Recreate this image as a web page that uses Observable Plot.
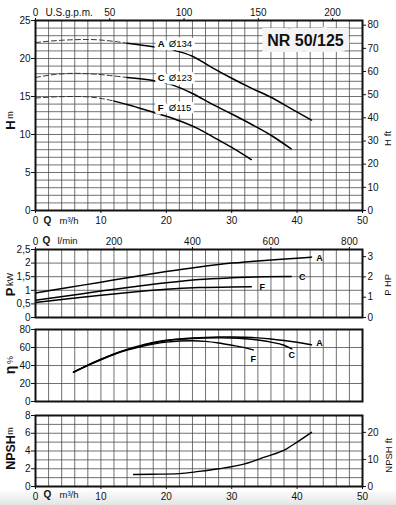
<!DOCTYPE html>
<html><head><meta charset="utf-8">
<script src="https://cdn.jsdelivr.net/npm/d3@7"></script>
<script src="https://cdn.jsdelivr.net/npm/@observablehq/plot@0.6"></script>
<style>
html,body{margin:0;padding:0;background:#fff;}
#wrap{position:relative;width:396px;height:505px;overflow:hidden;}
#wrap svg{position:absolute;left:0;overflow:visible;}
#shade{position:absolute;left:0;top:489px;width:396px;height:16px;background:linear-gradient(#fff,#e4e4e4);}
</style></head><body><div id="wrap"><div id="shade"></div></div>
<script>
// ---------- data ----------
const series = ["A", "C", "F"];
const impeller = ["Ø134", "Ø123", "Ø115"];
const modelName = "NR 50/125";

// Head H (m) vs Q (m3/h)
const headQ_A = [0, 4, 8, 12, 14, 18, 21, 24, 27, 30, 33, 36, 39, 42.2];
const headH_A = [22.1, 22.4, 22.5, 22.25, 22.0, 21.55, 21.1, 20.3, 18.8, 17.4, 16.1, 14.9, 13.45, 11.9];
const headQ_C = [0, 3, 6, 9, 12, 14, 18, 21, 24, 27, 30, 33, 36, 39.1];
const headH_C = [17.5, 17.9, 18.05, 17.95, 17.7, 17.5, 17.1, 16.5, 15.4, 14.0, 12.7, 11.35, 9.9, 8.1];
const headQ_F = [0, 3, 6, 8, 10, 12, 14, 17, 20, 22, 25, 27, 30, 33];
const headH_F = [14.8, 14.95, 15.0, 14.95, 14.75, 14.4, 13.95, 13.2, 12.4, 11.8, 10.7, 9.75, 8.3, 6.7];
const dashedUntil = [14, 14, 12]; // extrapolated (dashed) part of each head curve
const labelQ = [18.7, 18.7, 18.7];
const labelH = [21.97, 17.43, 13.55];

// Power P (kW)
const powQ_A = [0, 5, 10, 15, 20, 25, 30, 35, 40, 42.2];
const powP_A = [0.9, 1.1, 1.3, 1.5, 1.69, 1.86, 2.0, 2.1, 2.18, 2.22];
const powQ_C = [0, 5, 10, 15, 20, 25, 30, 35, 39.1];
const powP_C = [0.63, 0.8, 0.97, 1.13, 1.28, 1.4, 1.46, 1.495, 1.51];
const powQ_F = [0, 5, 10, 15, 20, 25, 30, 33];
const powP_F = [0.55, 0.69, 0.82, 0.94, 1.04, 1.1, 1.125, 1.13];

// Efficiency (%)
const effQ_A = [5.8, 8, 10, 12, 14, 16, 18, 20, 22, 24, 26, 28, 30, 32, 34, 36, 38, 40, 42.2];
const effE_A = [32.5, 40.5, 47, 53, 58, 62, 65.5, 68, 69.5, 70.5, 71.2, 71.6, 71.7, 71.4, 70.7, 69.5, 67.8, 65.8, 63];
const effQ_C = [5.8, 8, 10, 12, 14, 16, 18, 20, 22, 24, 26, 28, 30, 32, 34, 36, 38, 39.2];
const effE_C = [32.5, 40.3, 46.7, 52.7, 57.6, 61.6, 65, 67.5, 69, 70, 70.5, 70.7, 70.5, 69.8, 68.3, 66, 62.5, 58.5];
const effQ_F = [5.8, 8, 10, 12, 14, 16, 18, 20, 22, 24, 26, 28, 30, 32, 33.3];
const effE_F = [32.5, 40, 46.3, 52.2, 57, 60.8, 63.8, 66, 67.2, 67.5, 66.8, 65, 62.5, 59.8, 57.3];

// NPSH (m)
const npshQ = [15, 18, 22, 25, 28, 32, 35, 38.4, 40, 42.2];
const npshM = [1.35, 1.38, 1.45, 1.7, 2.0, 2.55, 3.3, 4.25, 5.0, 6.1];

// Tick labels
const qTicks = [0, 10, 20, 30, 40, 50];
const gpmTicks = [0, 50, 100, 150, 200];
const lpmTicks = [0, 200, 400, 600, 800];
const hTicks = [0, 5, 10, 15, 20, 25];
const hFtTicks = [0, 10, 20, 30, 40, 50, 60, 70, 80];
const pTicks = [0, 0.5, 1, 1.5, 2, 2.5];
const hpTicks = [0, 1, 2, 3];
const effTicks = [0, 20, 40, 60, 80];
const npshTicks = [0, 2, 4, 6, 8];
const npshFtTicks = [0, 10, 20];

// unit conversions
const FT = 0.3048, GPM = 0.2271247, LPM = 0.06, HP = 0.7457;

// ---------- helpers ----------
const FONT = '"Liberation Sans", Arial, Helvetica, sans-serif';
const rows = (qs, vs, s) => qs.map((q, i) => ({series: s, q, v: vs[i]}));
const qGrid = d3.range(0, 51, 2);
const gridStyle = {stroke: "#4d4d4d", strokeOpacity: 1, strokeWidth: 0.8};
const curve = "monotone-x";

function panel(top, height, mt, mb, ydomain, marks, xOpts = {}) {
  const svg = Plot.plot({
    width: 396, height, marginTop: mt, marginBottom: mb, marginLeft: 35, marginRight: 34,
    x: {domain: [0, 50], ...xOpts}, y: {domain: ydomain},
    style: {background: "transparent", fontFamily: FONT, fontSize: "10px", color: "#111", overflow: "visible"},
    marks
  });
  svg.style.top = top + "px";
  document.getElementById("wrap").appendChild(svg);
}

function sideText(txt, side, dx, dy, size, weight) {
  return Plot.text([txt], {text: d => d, frameAnchor: side, rotate: -90, dx, dy,
    fontSize: size, fontWeight: weight, textAnchor: "middle", lineAnchor: "middle", fill: "#111"});
}
function frameText(txt, anchor, dx, dy, size, weight, textAnchor = "start") {
  return Plot.text([txt], {text: d => d, frameAnchor: anchor, dx, dy,
    fontSize: size, fontWeight: weight, textAnchor, lineAnchor: "middle", fill: "#111"});
}

// ---------- Panel 1: head ----------
const headData = [
  rows(headQ_A, headH_A, "A"), rows(headQ_C, headH_C, "C"), rows(headQ_F, headH_F, "F")
];
const headDashed = headData.flatMap((r, i) => r.filter(d => d.q <= dashedUntil[i]));
const headSolid = headData.flatMap((r, i) => r.filter(d => d.q >= dashedUntil[i]));
const headLabels = series.map((s, i) => ({s, d: impeller[i], q: labelQ[i], h: labelH[i]}));

panel(0, 228, 20, 18, [0, 25], [
  Plot.gridX({ticks: qGrid, ...gridStyle}),
  Plot.gridY({ticks: d3.range(0, 26, 1), ...gridStyle}),
  Plot.line(headDashed, {x: "q", y: "v", z: "series", stroke: "#333", strokeWidth: 1, strokeDasharray: "5,3", curve}),
  Plot.line(headSolid, {x: "q", y: "v", z: "series", stroke: "#000", strokeWidth: 1.5, curve}),
  Plot.text(headLabels, {x: "q", y: "h", text: "d", textAnchor: "start", fontSize: 9.5, fill: "#000", dx: 11,
    stroke: "white", strokeWidth: 7}),
  Plot.text(headLabels, {x: "q", y: "h", text: "s", textAnchor: "start", fontSize: 9.5, fontWeight: "bold", fill: "#000",
    stroke: "white", strokeWidth: 7}),
  Plot.text([modelName], {text: d => d, frameAnchor: "top-right", dx: -57, dy: 20, fontSize: 16, fontWeight: "bold",
    textAnchor: "middle", lineAnchor: "middle", fill: "#111", stroke: "#f4f4f4", strokeWidth: 12, strokeLinejoin: "miter"}),
  Plot.frame({stroke: "#111", strokeWidth: 2}),
  Plot.axisY({anchor: "left", ticks: hTicks, tickSize: 4, tickPadding: 1, label: null}),
  Plot.axisY({anchor: "right", ticks: hFtTicks.map(f => f * FT), tickFormat: d => Math.round(d / FT), tickSize: 3, tickPadding: 2, label: null}),
  Plot.axisX({anchor: "top", ticks: gpmTicks.map(g => g * GPM), tickFormat: d => Math.round(d / GPM), tickSize: 3, tickPadding: 2, label: null}),
  Plot.axisX({anchor: "bottom", ticks: qTicks, tickSize: 3, tickPadding: 3, label: null}),
  frameText("U.S.g.p.m.", "top-left", 10, -8, 10, "normal"),
  frameText("Q", "bottom-left", 12, 10, 10, "bold", "middle"),
  frameText("m³/h", "bottom-left", 24, 10, 9.5, "normal"),
  sideText("H", "left", -25, 9.5, 13, "bold"),
  sideText("m", "left", -25, -0.5, 9, "normal"),
  sideText("H", "right", 25, 27, 9.5, "normal"),
  sideText("ft", "right", 25, 18, 9.5, "normal")
]);

// ---------- Panel 2: power ----------
const powData = [
  ...rows(powQ_A, powP_A, "A"), ...rows(powQ_C, powP_C, "C"), ...rows(powQ_F, powP_F, "F")
];
const powEnds = series.map(s => powData.filter(d => d.series === s).at(-1));
const powLabelDx = {A: 8, C: 11, F: 11};

panel(228, 94, 21, 5, [0, 2.5], [
  Plot.gridX({ticks: qGrid, ...gridStyle}),
  Plot.gridY({ticks: d3.range(0, 2.51, 0.5), ...gridStyle}),
  Plot.line(powData, {x: "q", y: "v", z: "series", stroke: "#000", strokeWidth: 1.5, curve}),
  ...series.map(s => Plot.text(powEnds.filter(d => d.series === s), {x: "q", y: "v", text: "series", dx: powLabelDx[s], dy: 0.5,
    fontSize: 9, fontWeight: "bold", fill: "#000"})),
  Plot.frame({stroke: "#111", strokeWidth: 2}),
  Plot.axisY({anchor: "left", ticks: pTicks, tickFormat: d => String(d).replace(".", ","), tickSize: 4, tickPadding: 1, label: null}),
  Plot.axisY({anchor: "right", ticks: hpTicks.map(h => h * HP), tickFormat: d => Math.round(d / HP), tickSize: 3, tickPadding: 2, label: null}),
  Plot.axisX({anchor: "top", ticks: lpmTicks.map(l => l * LPM), tickFormat: d => Math.round(d / LPM), tickSize: 3, tickPadding: 2, label: null}),
  frameText("Q", "top-left", 11, -9, 10, "bold", "middle"),
  frameText("l/min", "top-left", 22, -9, 9.5, "normal"),
  sideText("P", "left", -25, 8.5, 13, "bold"),
  sideText("kW", "left", -25, -4, 9, "normal"),
  sideText("P", "right", 25, 9, 9.5, "normal"),
  sideText("HP", "right", 25, -3, 9.5, "normal")
]);

// ---------- Panel 3: efficiency ----------
const effData = [
  ...rows(effQ_A, effE_A, "A"), ...rows(effQ_C, effE_C, "C"), ...rows(effQ_F, effE_F, "F")
];
const effEnds = series.map(s => effData.filter(d => d.series === s).at(-1));
const effLabelOff = {A: [8, -2], C: [0, 6], F: [0, 9]};

panel(322, 86, 7, 7, [0, 80], [
  Plot.gridX({ticks: qGrid, ...gridStyle}),
  Plot.gridY({ticks: effTicks, ...gridStyle}),
  Plot.line(effData, {x: "q", y: "v", z: "series", stroke: "#000", strokeWidth: 1.4, curve}),
  ...series.map(s => Plot.text(effEnds.filter(d => d.series === s), {x: "q", y: "v", text: "series",
    dx: effLabelOff[s][0], dy: effLabelOff[s][1], fontSize: 9, fontWeight: "bold", fill: "#000"})),
  Plot.frame({stroke: "#111", strokeWidth: 2}),
  Plot.axisY({anchor: "left", ticks: effTicks, tickSize: 4, tickPadding: 1, label: null}),
  sideText("η", "left", -25, 4.5, 14, "bold"),
  sideText("%", "left", -25, -5.5, 9, "normal")
], {axis: null});

// ---------- Panel 4: NPSH ----------
const npshData = rows(npshQ, npshM, "N");

panel(408, 97, 7, 19, [0, 8], [
  Plot.gridX({ticks: qGrid, ...gridStyle}),
  Plot.gridY({ticks: d3.range(0, 9, 1), ...gridStyle}),
  Plot.line(npshData, {x: "q", y: "v", stroke: "#000", strokeWidth: 1.4, curve}),
  Plot.frame({stroke: "#111", strokeWidth: 2}),
  Plot.axisY({anchor: "left", ticks: npshTicks, tickSize: 4, tickPadding: 1, label: null}),
  Plot.axisY({anchor: "right", ticks: npshFtTicks.map(f => f * FT), tickFormat: d => Math.round(d / FT), tickSize: 3, tickPadding: 2, label: null}),
  Plot.axisX({anchor: "bottom", ticks: qTicks, tickSize: 3, tickPadding: 3, label: null}),
  frameText("Q", "bottom-left", 12, 8, 10, "bold", "middle"),
  frameText("m³/h", "bottom-left", 24, 8, 9.5, "normal"),
  sideText("NPSH", "left", -25, 1.5, 12.5, "bold"),
  sideText("m", "left", -25, -20, 9, "normal"),
  sideText("NPSH", "right", 26, 8.5, 9.5, "normal"),
  sideText("ft", "right", 26, -10.5, 9.5, "normal")
]);
</script></body></html>
